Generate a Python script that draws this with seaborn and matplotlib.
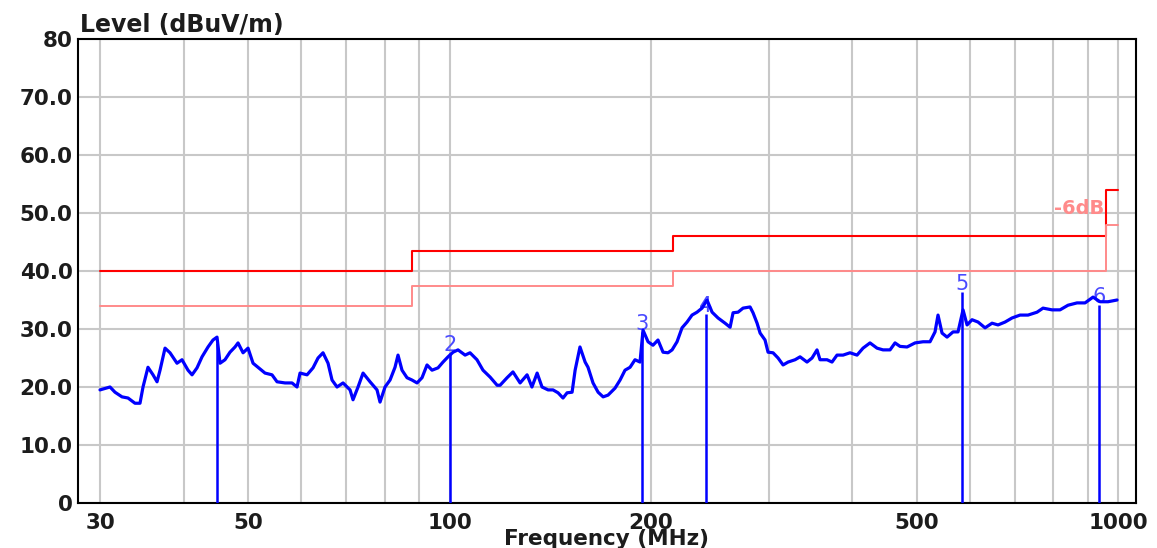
import matplotlib
matplotlib.use("Agg")
import matplotlib.pyplot as plt
import numpy as np
import pandas as pd
import seaborn as sns

# ---- measured spectrum (MHz, dBuV/m) ----
freq_mhz = [
    30.0, 31.05, 31.59, 32.36, 33.04, 33.84, 34.43, 34.79, 35.39, 36.01,
    36.51, 36.89, 37.53, 38.18, 39.11, 39.79, 40.62, 41.19, 41.90, 42.63,
    43.52, 44.27, 44.89, 45.36, 46.14, 46.94, 47.76, 48.26, 49.10, 49.95,
    50.82, 51.70, 52.96, 54.25, 55.20, 56.74, 58.12, 59.13, 59.75, 61.21,
    62.48, 63.57, 64.67, 65.80, 66.71, 67.87, 69.29, 70.98, 71.71, 72.96,
    74.23, 76.04, 77.89, 78.70, 80.07, 81.46, 82.87, 83.73, 84.89, 86.37,
    87.87, 89.40, 90.95, 92.53, 94.14, 96.10, 97.77, 99.47, 101.2, 102.95,
    105.5, 107.3, 109.9, 112.2, 115.0, 117.8, 119.0, 121.9, 124.4, 127.5,
    130.6, 132.8, 135.2, 137.5, 140.4, 142.8, 145.3, 147.8, 149.9, 152.5,
    154.1, 156.7, 159.5, 161.1, 163.9, 166.8, 169.7, 172.6, 176.8, 179.9,
    183.0, 186.2, 189.4, 192.7, 194.7, 198.1, 201.5, 205.0, 208.6, 212.2,
    215.2, 218.9, 222.7, 226.6, 230.5, 234.5, 238.6, 242.7, 247.0, 252.1,
    258.3, 262.8, 265.5, 270.1, 274.8, 281.5, 284.4, 288.4, 291.4, 296.4,
    299.5, 304.7, 310.0, 315.4, 320.9, 328.7, 334.4, 342.5, 348.5, 354.5,
    358.2, 367.0, 373.3, 379.8, 387.8, 397.2, 406.9, 415.4, 425.5, 435.9,
    445.0, 455.9, 463.8, 471.9, 483.4, 496.9, 510.8, 523.2, 532.3, 537.8,
    545.3, 554.8, 566.4, 576.2, 586.2, 594.4, 604.7, 617.3, 632.4, 647.8,
    661.3, 677.5, 694.0, 713.4, 733.3, 756.4, 772.2, 796.5, 818.7, 841.6,
    868.1, 892.4, 917.3, 939.7, 965.9, 996.4,
]
level_dbuv = [
    19.5, 20.0, 19.1, 18.3, 18.1, 17.2, 17.2, 20.0, 23.4, 22.1,
    20.9, 22.9, 26.7, 25.9, 24.1, 24.7, 22.9, 22.1, 23.3, 25.2,
    26.9, 28.1, 28.6, 24.1, 24.7, 26.0, 26.9, 27.6, 25.9, 26.7,
    24.1, 23.4, 22.4, 22.1, 20.9, 20.7, 20.7, 20.0, 22.4, 22.1,
    23.3, 25.0, 25.9, 24.1, 21.2, 20.0, 20.7, 19.5, 17.8, 20.0,
    22.4, 20.9, 19.5, 17.4, 20.0, 21.2, 23.4, 25.5, 22.9, 21.6,
    21.2, 20.7, 21.6, 23.8, 22.9, 23.3, 24.3, 25.2, 26.0, 26.4,
    25.5, 25.9, 24.7, 22.9, 21.7, 20.3, 20.3, 21.6, 22.6, 20.7,
    22.1, 20.0, 22.4, 20.0, 19.5, 19.5, 19.0, 18.1, 19.0, 19.1,
    22.9, 26.9, 24.3, 23.4, 20.7, 19.1, 18.3, 18.6, 19.8, 21.2,
    22.9, 23.4, 24.7, 24.3, 29.8, 27.8, 27.2, 28.1, 26.0, 25.9,
    26.4, 27.8, 30.2, 31.2, 32.4, 32.9, 33.6, 35.0, 32.9, 31.9,
    31.0, 30.3, 32.8, 32.9, 33.6, 33.8, 32.8, 31.0, 29.3, 28.1,
    26.0, 25.9, 25.0, 23.8, 24.3, 24.7, 25.2, 24.3, 25.0, 26.4,
    24.7, 24.7, 24.3, 25.5, 25.5, 25.9, 25.5, 26.7, 27.6, 26.7,
    26.4, 26.4, 27.6, 27.0, 26.9, 27.6, 27.8, 27.8, 29.5, 32.4,
    29.3, 28.6, 29.5, 29.5, 33.3, 30.7, 31.6, 31.2, 30.2, 31.0,
    30.7, 31.2, 31.9, 32.4, 32.4, 32.9, 33.6, 33.3, 33.3, 34.1,
    34.5, 34.5, 35.5, 34.7, 34.7, 35.0,
]

# ---- limit line (class B) and the -6 dB margin ----
limit_freq = [30, 88, 216, 960, 1000]
limit_level = [40.0, 43.5, 46.0, 54.0, 54.0]
margin_db = 6.0

# ---- peak markers (marker 1 carries no visible tag) ----
marker_freq = [44.9, 100.2, 194.0, 241.9, 584.2, 936.5]
marker_level = [27.6, 25.9, 29.5, 32.6, 36.4, 34.2]
marker_label = ["", "2", "3", "4", "5", "6"]

# ---- axis ticks ----
grid_freq = [30, 40, 50, 60, 70, 80, 90, 100, 200, 300, 400, 500,
             600, 700, 800, 900, 1000]
labelled_freq = [30, 50, 100, 200, 500, 1000]
y_ticks = [0, 10, 20, 30, 40, 50, 60, 70, 80]
y_ticklabels = ["0", "10.0", "20.0", "30.0", "40.0", "50.0", "60.0", "70.0", "80"]

sns.set_style("white")
plt.rcParams["font.family"] = ["DejaVu Sans"]

W, H = 1157, 548
fig = plt.figure(figsize=(W / 100, H / 100), dpi=100)
left, right, top, bottom = 78, 1136, 39, 503
ax = fig.add_axes([left / W, 1 - bottom / H, (right - left) / W, (bottom - top) / H])

ax.set_xscale("log")

df = pd.DataFrame({"freq": freq_mhz, "level": level_dbuv})

# limit lines
lim = np.array(limit_level)
ax.step(limit_freq, lim, where="post", color="#ff0000", lw=1.5, zorder=2)
ax.step(limit_freq, lim - margin_db, where="post", color="#ff8a8a", lw=1.4, zorder=2)
ax.text(955, limit_level[-1] - margin_db / 2 - 0.3, f"-{margin_db:.0f}dB",
        color="#ff8a8a", fontsize=14, fontweight="bold", ha="right",
        va="center", zorder=2)

# marker labels sit behind the trace
for f, lv, lab in zip(marker_freq, marker_level, marker_label):
    if lab:
        ax.text(f, lv + 1.3, lab, color="#4a4aff", fontsize=15, ha="center",
                va="center", zorder=2.5)

# spectrum trace
sns.lineplot(data=df, x="freq", y="level", ax=ax, color="#0000ff", lw=2.3,
             estimator=None, sort=False, legend=False, zorder=3)

# marker lines
ax.vlines(marker_freq, 0, marker_level, color="#0000ff", lw=1.8, zorder=3)

ax.set_xlim(27.81, 1063.6)
ax.set_ylim(0, 80)

ax.xaxis.set_minor_locator(matplotlib.ticker.NullLocator())
ax.set_xticks(grid_freq)
ax.set_xticklabels([str(f) if f in labelled_freq else "" for f in grid_freq])
ax.set_yticks(y_ticks)
ax.set_yticklabels(y_ticklabels)

for t in ax.get_xticklabels() + ax.get_yticklabels():
    t.set_fontsize(15.5)
    t.set_fontweight("bold")
    t.set_color("#1c1c1c")
ax.tick_params(axis="both", length=0)
ax.tick_params(axis="x", pad=7)
ax.tick_params(axis="y", pad=4)

ax.grid(True, color="#c8c8c8", lw=1.5, zorder=0.5)
ax.set_axisbelow(True)
for s in ax.spines.values():
    s.set_color("black")
    s.set_linewidth(1.5)
    s.set_visible(True)

ax.set_xlabel("")
ax.set_ylabel("")
ax.text(0.002, 1.016, "Level (dBuV/m)", transform=ax.transAxes, ha="left",
        va="baseline", fontsize=17, fontweight="bold", color="#1c1c1c")
ax.text(0.5, -0.0905, "Frequency (MHz)", transform=ax.transAxes, ha="center",
        va="baseline", fontsize=15.5, fontweight="bold", color="#1c1c1c")

fig.savefig("out.png", dpi=100, facecolor="white")
